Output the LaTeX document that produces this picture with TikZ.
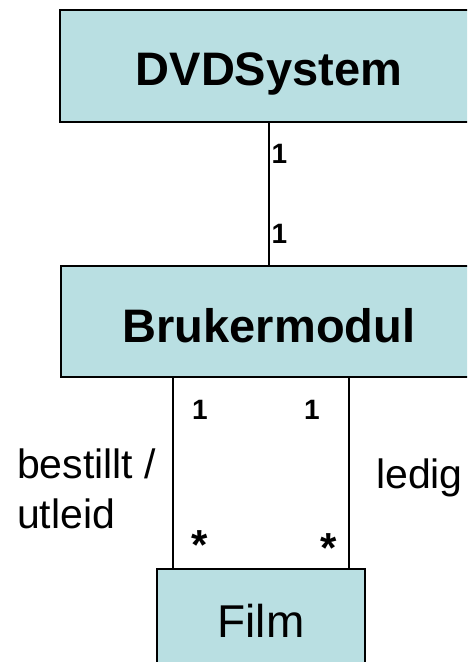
\documentclass[tikz,border=0pt]{standalone}
\usepackage{fontspec}
\setmainfont{Liberation Sans}
\definecolor{boxfill}{HTML}{B9DFE2}
\tikzset{
  umlbox/.style={draw=black, line width=2pt, fill=boxfill, rectangle, inner sep=0pt, text depth=0pt, align=center},
  conn/.style={draw=black, line width=2pt},
  mult/.style={font=\fontsize{28pt}{28pt}\selectfont\bfseries, anchor=base, inner sep=0pt},
  star/.style={font=\fontsize{42pt}{42pt}\selectfont\bfseries, anchor=base, inner sep=0pt},
  role/.style={font=\fontsize{41pt}{50pt}\selectfont, inner sep=0pt, align=left}
}
\begin{document}
\begin{tikzpicture}[x=1pt,y=-1pt]
\useasboundingbox (0,0) rectangle (467,662);
\clip (0,0) rectangle (467,662);
\fill[white] (0,0) rectangle (467,662);
\node[umlbox, minimum width=418pt, minimum height=112pt, text height=38pt,
      font=\fontsize{47pt}{47pt}\selectfont\bfseries] (dvd) at (269,66) {DVDSystem};
\node[umlbox, minimum width=416pt, minimum height=111pt, text height=41pt,
      font=\fontsize{47pt}{47pt}\selectfont\bfseries] (bruk) at (269,321.5) {Brukermodul};
\node[umlbox, minimum width=208pt, minimum height=106pt, text height=30pt,
      font=\fontsize{46pt}{46pt}\selectfont] (film) at (261,622) {Film};
\coordinate (l) at (173,0);
\coordinate (r) at (349,0);
\draw[conn] (dvd.south) -- (bruk.north);
\draw[conn] (bruk.south -| l) -- (film.north -| l);
\draw[conn] (bruk.south -| r) -- (film.north -| r);
\node[mult] (m1) at (279.5,163) {1};
\node[mult] (m2) at (279.5,243) {1};
\node[mult] (m3) at (200,419) {1};
\node[mult] (m4) at (312,419) {1};
\node[star] (s1) at (200,559) {*};
\node[star] (s2) at (329,562) {*};
\node[role, anchor=base west] (r1) at (17,528) {bestillt /\\utleid};
\node[role, anchor=base west] (r2) at (376,488) {ledig};
\end{tikzpicture}
\end{document}
